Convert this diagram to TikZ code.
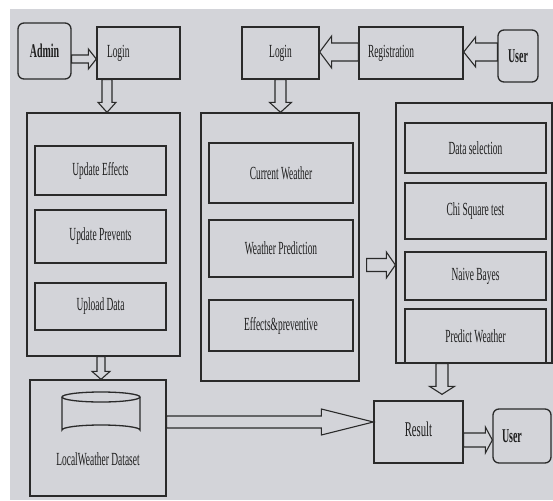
\documentclass[tikz,border=0pt]{standalone}
\usepackage{fontspec}
\setmainfont{Liberation Serif}[FakeStretch=0.51]
\usetikzlibrary{calc}
\definecolor{bg}{HTML}{D3D4D9}
\definecolor{ln}{HTML}{2A2A2A}
\definecolor{tx}{HTML}{1E1E1E}
\tikzset{
  box/.style={draw=ln, line width=1.3pt, fill=bg, inner sep=0pt, text=tx, font=\fontsize{18.5}{20}\selectfont},
  rbox/.style={box, rounded corners=6pt, font=\fontsize{19.5}{21}\selectfont\bfseries},
  blk/.style={draw=ln, line width=1.1pt, fill=bg, line join=miter},
}
\newcommand\arrR[5]{\draw[blk] let \p1=(#1), \p2=(#2) in (\x1,\y1+#3) -- (\x2-#5,\y1+#3) -- (\x2-#5,\y1+#4) -- (\x2,\y1) -- (\x2-#5,\y1-#4) -- (\x2-#5,\y1-#3) -- (\x1,\y1-#3) -- cycle;}
\newcommand\arrL[5]{\draw[blk] let \p1=(#1), \p2=(#2) in (\x1,\y1+#3) -- (\x2+#5,\y1+#3) -- (\x2+#5,\y1+#4) -- (\x2,\y1) -- (\x2+#5,\y1-#4) -- (\x2+#5,\y1-#3) -- (\x1,\y1-#3) -- cycle;}
\newcommand\arrD[5]{\draw[blk] let \p1=(#1), \p2=(#2) in (\x1+#3,\y1) -- (\x1+#3,\y2+#5) -- (\x1+#4,\y2+#5) -- (\x1,\y2) -- (\x1-#4,\y2+#5) -- (\x1-#3,\y2+#5) -- (\x1-#3,\y1) -- cycle;}
\begin{document}
\begin{tikzpicture}[x=1pt,y=-1pt]
\useasboundingbox (0,0) rectangle (553,500);
\fill[bg] (10,9) rectangle (553,500);
% top row
\node[rbox, minimum width=53pt, minimum height=56pt] (admin) at (44.5,51) {Admin};
\node[box, minimum width=83pt, minimum height=52pt, text width=63pt, inner xsep=10pt, align=left] (login1) at (138.5,53) {Login};
\node[box, minimum width=77pt, minimum height=52pt] (login2) at (280.5,53) {Login};
\node[box, minimum width=104pt, minimum height=52pt, text width=86pt, inner xsep=9pt, align=left] (reg) at (411,53) {Registration};
\node[rbox, minimum width=40pt, minimum height=52pt] (usertop) at (518,56) {User};
% left container
\node[box, minimum width=153pt, minimum height=243pt] (leftc) at (103.5,234.5) {};
\node[box, minimum width=131pt, minimum height=49pt] (ue) at (100.5,170.5) {Update Effects};
\node[box, minimum width=131pt, minimum height=53pt] (up) at (100.5,236.5) {Update Prevents};
\node[box, minimum width=131pt, minimum height=47pt] (ud) at (100.5,306.5) {Upload Data};
% middle container
\node[box, minimum width=158pt, minimum height=268pt] (midc) at (280,247) {};
\node[box, minimum width=144pt, minimum height=60pt] (cw) at (281,173) {Current Weather};
\node[box, minimum width=144pt, minimum height=57pt] (wp) at (281,248.5) {Weather Prediction};
\node[box, minimum width=144pt, minimum height=51pt] (ep) at (281,325.5) {Effects\&preventive};
% right container
\node[box, minimum width=156pt, minimum height=260pt] (rightc) at (474,233) {};
\node[box, minimum width=141pt, minimum height=50pt] (ds) at (475.5,148) {Data selection};
\node[box, minimum width=141pt, minimum height=56pt] (cs) at (475.5,211) {Chi Square test};
\node[box, minimum width=141pt, minimum height=48pt] (nb) at (475.5,276) {Naive Bayes};
\node[box, minimum width=141pt, minimum height=54pt] (pw) at (475.5,336) {Predict Weather};
% dataset
\node[box, minimum width=136pt, minimum height=116pt] (dataset) at (98,438) {};
\draw[draw=ln, line width=1.3pt, fill=bg] (62,397) -- (62,430) arc[start angle=180, end angle=360, x radius=39, y radius=5] -- (140,397);
\draw[draw=ln, line width=1.3pt, fill=bg] (101,397) ellipse [x radius=39, y radius=5];
\node[text=tx, font=\fontsize{18.5}{20}\selectfont, inner sep=0pt] (dslabel) at (98,459) {LocalWeather Dataset};
% result and user
\node[box, minimum width=89pt, minimum height=62pt, font=\fontsize{21}{23}\selectfont] (result) at (418.5,432) {\raisebox{5pt}{Result}};
\node[rbox, minimum width=58pt, minimum height=54pt, text width=40pt, inner xsep=9pt, align=left] (userbot) at (522,436) {User};
% arrows
\arrR{[yshift=-8pt]admin.east}{login1.west}{4pt}{10pt}{8pt}
\arrD{[xshift=-31.5pt]login1.south}{leftc.north}{5pt}{9pt}{10pt}
\arrL{[yshift=1pt]reg.west}{login2.east}{9pt}{16pt}{12pt}
\arrL{[yshift=4pt]usertop.west}{reg.east}{9pt}{15pt}{12pt}
\arrD{login2.south}{midc.north}{5.5pt}{11pt}{10pt}
\arrR{[xshift=7pt,yshift=-18pt]midc.east}{rightc.west}{6.5pt}{13pt}{9pt}
\arrD{[xshift=-2.5pt]leftc.south}{dataset.north}{4pt}{9pt}{8pt}
\arrD{[xshift=-32pt]rightc.south}{[yshift=6pt]result.north}{6pt}{12.5pt}{8pt}
\arrR{[yshift=16pt]dataset.east}{result.west}{6pt}{13pt}{52pt}
\arrR{[yshift=-8pt]result.east}{userbot.west}{7pt}{13pt}{7pt}
\end{tikzpicture}
\end{document}
